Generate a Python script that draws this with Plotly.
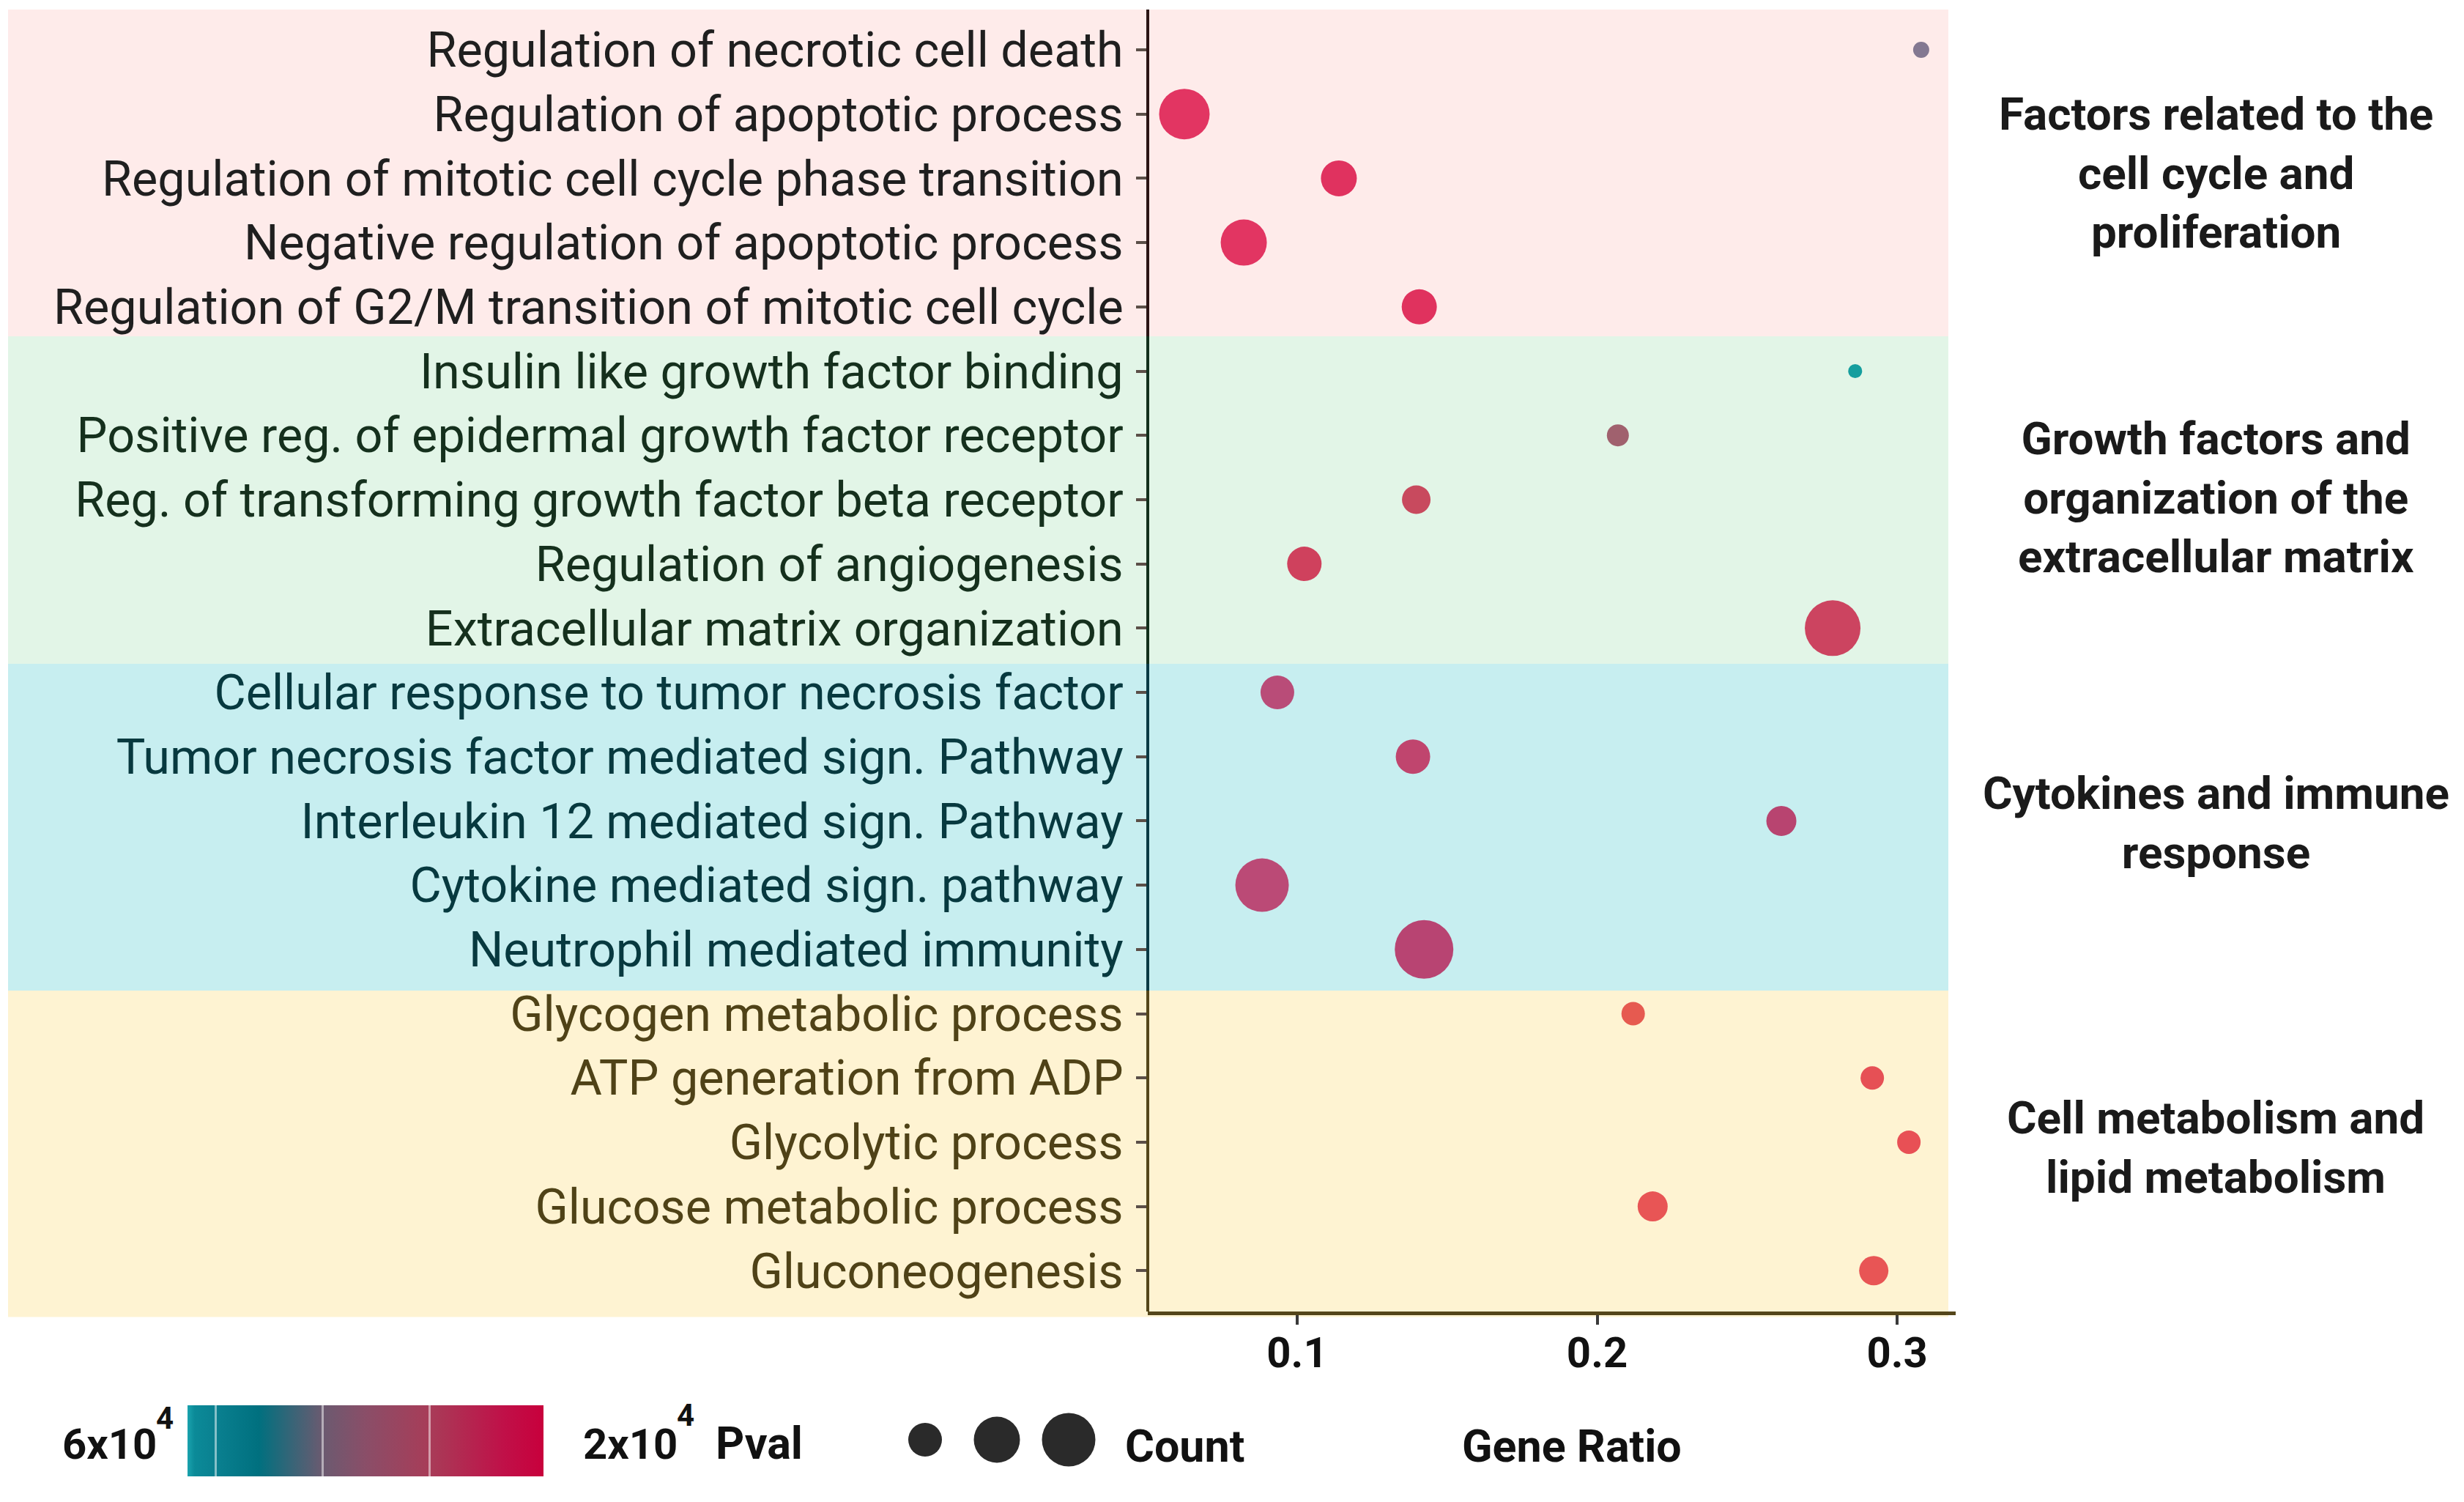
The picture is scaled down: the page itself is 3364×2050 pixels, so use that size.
import plotly.graph_objects as go

# ---------------- data ----------------
terms = [
    "Regulation of necrotic cell death",
    "Regulation of apoptotic process",
    "Regulation of mitotic cell cycle phase transition",
    "Negative regulation of apoptotic process",
    "Regulation of G2/M transition of mitotic cell cycle",
    "Insulin like growth factor binding",
    "Positive reg. of epidermal growth factor receptor",
    "Reg. of transforming growth factor beta receptor",
    "Regulation of angiogenesis",
    "Extracellular matrix organization",
    "Cellular response to tumor necrosis factor",
    "Tumor necrosis factor mediated sign. Pathway",
    "Interleukin 12 mediated sign. Pathway",
    "Cytokine mediated sign. pathway",
    "Neutrophil mediated immunity",
    "Glycogen metabolic process",
    "ATP generation from ADP",
    "Glycolytic process",
    "Glucose metabolic process",
    "Gluconeogenesis",
]
gene_ratio = [0.308, 0.0624, 0.1139, 0.0822, 0.1407,
              0.286, 0.2069, 0.1397, 0.1024, 0.2785,
              0.0934, 0.1386, 0.2614, 0.0883, 0.1423,
              0.212, 0.2917, 0.3039, 0.2185, 0.2922]
# marker diameter (px) encoding Count
count_size = [22, 69, 49, 63, 48,
              19, 30, 39, 47, 76,
              46, 47, 41, 73, 80,
              32, 32, 32, 41, 40]
# marker colours (Pval)
dot_colors = ["#837891", "#E23562", "#E0325F", "#E23562", "#E0325E",
              "#159E9E", "#A0616E", "#C84A5E", "#CF415D", "#CC4460",
              "#B94C78", "#C0456E", "#B84470", "#BB4A76", "#B84472",
              "#E65A50", "#E65055", "#E85055", "#E85555", "#E85555"]

groups = [
    "Factors related to the<br>cell cycle and<br>proliferation",
    "Growth factors and<br>organization of the<br>extracellular matrix",
    "Cytokines and immune<br>response",
    "Cell metabolism and<br>lipid metabolism",
]
group_size = 5
x_ticks = [0.1, 0.2, 0.3]
pval_low_label, pval_high_label, pval_exp = "6x10", "2x10", "4"

# ---------------- styling ----------------
W, H = 3364, 2050
L, R, T, B = 1567, 694, 11, 260
PW, PH = W - L - R, H - T - B

band_fill = ["#FEEBEA", "#E2F5E7", "#C7EEF0", "#FEF3D2"]
band_text = ["#1f1f1f", "#15301d", "#07393f", "#4f4217"]
band_line = ["#2b1414", "#12301c", "#0a3a44", "#54461a"]
band_edges = [-0.627, 4.458, 9.555, 14.64, 19.72]
y_range = [19.635, -0.65]
group_yshift = [7, 3, -3, -7]


def px_x(p):
    return (p - L) / PW


def px_y(p):
    return (H - B - p) / PH


def row_paper(v):
    return (y_range[0] - v) / (y_range[0] - y_range[1])


rows = list(range(len(terms)))
ticktext = []
for i, t in enumerate(terms):
    g = i // group_size
    ticktext.append(f'<span style="color:{band_text[g]}">{t}</span>')

fig = go.Figure()
fig.add_trace(go.Scatter(
    x=gene_ratio, y=rows, mode="markers",
    marker=dict(size=count_size, sizemode="diameter", color=dot_colors,
                line=dict(width=0), opacity=1),
    hoverinfo="skip", showlegend=False, cliponaxis=False,
))

# colour bar legend (Pval)
fig.add_trace(go.Scatter(
    x=[None], y=[None], mode="markers", showlegend=False, hoverinfo="skip",
    marker=dict(
        color=[0.5], cmin=0, cmax=1,
        colorscale=[[0, "#1aa3ae"], [0.02, "#0b8a98"], [0.08, "#0a8090"],
                    [0.2, "#00707f"], [0.38, "#6b5a70"], [0.5, "#8a4e68"],
                    [0.68, "#a83c58"], [0.89, "#c01048"], [1, "#c8003c"]],
        showscale=True,
        colorbar=dict(
            orientation="h", x=px_x(499), xanchor="center",
            y=px_y(2015), yanchor="middle",
            len=486, lenmode="pixels", thickness=97, thicknessmode="pixels",
            outlinewidth=0, xpad=0, ypad=0,
            ticks="inside", tickvals=[0.08, 0.38, 0.68], ticklen=97,
            tickcolor="rgba(255,255,255,0.5)", tickwidth=3,
            showticklabels=False,
        ),
    ),
))

shapes = []
for g in range(len(groups)):
    shapes.append(dict(type="rect", xref="paper", yref="paper",
                       x0=px_x(11), x1=px_x(2660),
                       y0=row_paper(band_edges[g]), y1=row_paper(band_edges[g + 1]),
                       fillcolor=band_fill[g], line=dict(width=0), layer="below"))
for g in range(len(groups)):
    shapes.append(dict(type="line", xref="x domain", yref="y",
                       x0=0, x1=0,
                       y0=max(band_edges[g], y_range[1]),
                       y1=min(band_edges[g + 1], y_range[0]),
                       line=dict(color=band_line[g], width=4), layer="above"))

# size legend circles
for cx, d in [(1263, 46), (1361, 63), (1459, 73)]:
    shapes.append(dict(type="circle", xref="paper", yref="paper",
                       xsizemode="pixel", ysizemode="pixel",
                       xanchor=px_x(cx), yanchor=px_y(1965),
                       x0=-d / 2, x1=d / 2, y0=-d / 2, y1=d / 2,
                       fillcolor="#2a2a2a", line=dict(width=0)))

annotations = []
for g, txt in enumerate(groups):
    annotations.append(dict(
        text=txt, xref="paper", yref="y", x=px_x(3025), y=g * group_size + 2,
        yshift=group_yshift[g],
        xanchor="center", yanchor="middle", showarrow=False, align="center",
        font=dict(family="Roboto", size=62, color="#1a1a1a", weight="bold"),
    ))

num_font = dict(family="Roboto", size=58, color="#111111", weight="bold")
exp_font = dict(family="Roboto", size=42, color="#111111", weight="bold")
word_font = dict(family="Roboto", size=61, color="#111111", weight="bold")
for txt, xl, yc, f in [(pval_low_label, 83, 1971, num_font),
                       (pval_exp, 211, 1936, exp_font),
                       (pval_high_label, 794, 1971, num_font),
                       (pval_exp, 922, 1932, exp_font),
                       ("Pval", 975, 1970, word_font),
                       ("Count", 1534, 1974, word_font),
                       ("Gene Ratio", 1994, 1974, word_font)]:
    annotations.append(dict(
        text=txt, xref="paper", yref="paper", x=px_x(xl), y=px_y(yc),
        xanchor="left", yanchor="middle", showarrow=False, font=f,
    ))

fig.update_layout(
    width=W, height=H,
    margin=dict(l=L, r=R, t=T, b=B, pad=0, autoexpand=False),
    paper_bgcolor="white", plot_bgcolor="rgba(0,0,0,0)",
    shapes=shapes, annotations=annotations,
    xaxis=dict(
        range=[0.0502, 0.3195], tickvals=x_ticks,
        ticktext=[f"{v:.1f}" for v in x_ticks],
        ticks="outside", ticklen=13, tickwidth=4, tickcolor="#3a3a3a",
        showline=True, linecolor="#54461a", linewidth=5,
        showgrid=False, zeroline=False, ticklabelstandoff=-12,
        tickfont=dict(family="Roboto", size=58, color="#111111", weight="bold"),
    ),
    yaxis=dict(
        range=y_range, tickvals=rows, ticktext=ticktext,
        ticks="outside", ticklen=15, tickwidth=4, tickcolor="#5b4f48",
        showline=False, showgrid=False, zeroline=False, ticklabelstandoff=4,
        tickfont=dict(family="Roboto", size=66.5, color="#1f1f1f"),
    ),
)

fig.write_html("out.html",
               config={"displayModeBar": False},
               post_script="document.body.style.margin='0';"
                           "document.body.style.overflow='hidden';")
